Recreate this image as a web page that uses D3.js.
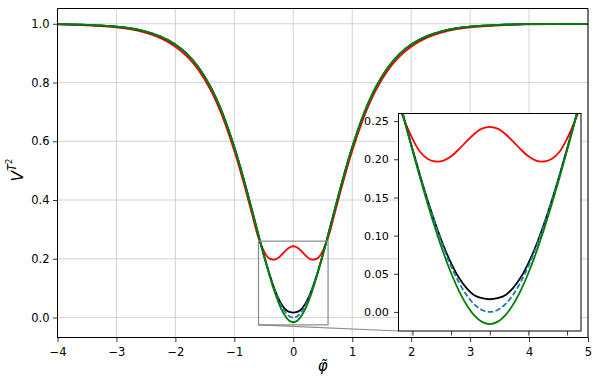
<!DOCTYPE html>
<html>
<head>
<meta charset="utf-8">
<script src="https://cdn.jsdelivr.net/npm/d3@7"></script>
<style>
  body { margin: 0; background: #fff; }
  svg { display: block; }
  text { font-family: "DejaVu Sans", sans-serif; fill: #000; }
</style>
</head>
<body>
<svg width="600" height="388"></svg>
<script>
// field values (phi tilde) shared by all curves
const phi = [-4, -3.5, -3, -2.75, -2.5, -2.25, -2, -1.8, -1.6, -1.4, -1.2, -1, -0.9, -0.8, -0.7, -0.6, -0.55, -0.5, -0.45, -0.4, -0.35, -0.3, -0.25, -0.2, -0.15, -0.1, -0.05,
  0, 0.05, 0.1, 0.15, 0.2, 0.25, 0.3, 0.35, 0.4, 0.45, 0.5, 0.55, 0.6, 0.7, 0.8, 0.9, 1, 1.2, 1.4, 1.6, 1.8, 2, 2.25, 2.5, 2.75, 3, 3.5, 4, 4.5, 5];

const redV = [0.9980, 0.9950, 0.9880, 0.9810, 0.9690, 0.9510, 0.9220, 0.8880, 0.8400, 0.7730, 0.6830, 0.5670, 0.5000, 0.4280, 0.3520, 0.2770, 0.2500, 0.2270, 0.2095, 0.2005, 0.1971, 0.1982, 0.2039, 0.2130, 0.2235, 0.2332, 0.2401,
  0.2426, 0.2401, 0.2332, 0.2235, 0.2130, 0.2039, 0.1982, 0.1971, 0.2005, 0.2095, 0.2270, 0.2500, 0.2770, 0.3520, 0.4280, 0.5000, 0.5670, 0.6830, 0.7730, 0.8400, 0.8880, 0.9220, 0.9510, 0.9690, 0.9810, 0.9880, 0.9950, 0.9980, 0.9993, 0.9998];

const blackV = [0.9987, 0.9964, 0.9901, 0.9839, 0.9734, 0.9565, 0.9293, 0.8964, 0.8495, 0.7839, 0.6950, 0.5800, 0.5131, 0.4409, 0.3653, 0.2885, 0.2506, 0.2138, 0.1785, 0.1453, 0.1149, 0.0873, 0.0640, 0.0450, 0.0312, 0.0219, 0.0180,
  0.0166, 0.0180, 0.0219, 0.0312, 0.0450, 0.0640, 0.0873, 0.1149, 0.1453, 0.1785, 0.2138, 0.2506, 0.2885, 0.3653, 0.4409, 0.5131, 0.5800, 0.6950, 0.7839, 0.8495, 0.8964, 0.9293, 0.9565, 0.9734, 0.9839, 0.9901, 0.9964, 0.9987, 0.9995, 0.9998];

const blueV = [0.9987, 0.9964, 0.9901, 0.9839, 0.9734, 0.9565, 0.9293, 0.8964, 0.8495, 0.7839, 0.6950, 0.5800, 0.5131, 0.4409, 0.3653, 0.2884, 0.2505, 0.2135, 0.1780, 0.1443, 0.1132, 0.0848, 0.0600, 0.0390, 0.0222, 0.0099, 0.0025,
  0.0000, 0.0025, 0.0099, 0.0222, 0.0390, 0.0600, 0.0848, 0.1132, 0.1443, 0.1780, 0.2135, 0.2505, 0.2884, 0.3653, 0.4409, 0.5131, 0.5800, 0.6950, 0.7839, 0.8495, 0.8964, 0.9293, 0.9565, 0.9734, 0.9839, 0.9901, 0.9964, 0.9987, 0.9995, 0.9998];

const greenV = [0.9987, 0.9964, 0.9901, 0.9839, 0.9734, 0.9565, 0.9293, 0.8964, 0.8495, 0.7839, 0.6950, 0.5798, 0.5127, 0.4403, 0.3645, 0.2874, 0.2490, 0.2115, 0.1750, 0.1403, 0.1077, 0.0778, 0.0510, 0.0280, 0.0094, -0.0046, -0.0131,
  -0.0160, -0.0131, -0.0046, 0.0094, 0.0280, 0.0510, 0.0778, 0.1077, 0.1403, 0.1750, 0.2115, 0.2490, 0.2874, 0.3645, 0.4403, 0.5127, 0.5798, 0.6950, 0.7839, 0.8495, 0.8964, 0.9293, 0.9565, 0.9734, 0.9839, 0.9901, 0.9964, 0.9987, 0.9995, 0.9998];

const xTicks = [-4, -3, -2, -1, 0, 1, 2, 3, 4, 5];
const yTicks = [0, 0.2, 0.4, 0.6, 0.8, 1.0];
const insetXTicks = [-0.5, -0.25, 0, 0.25, 0.5];
const insetYTicks = [0, 0.05, 0.10, 0.15, 0.20, 0.25];
const zoomX = [-0.59, 0.59];
const zoomY = [-0.025, 0.26];

const series = [
  { v: redV, color: '#ff0000', dash: null },
  { v: blackV, color: '#000000', dash: null },
  { v: blueV, color: '#1f77b4', dash: '5.5,2.4' },
  { v: greenV, color: '#008000', dash: null },
];

const svg = d3.select('svg');
const L = 57.5, R = 588, T = 8.5, B = 337.5;

const x = d3.scaleLinear().domain([-4, 5]).range([L, R]);
const y = d3.scaleLinear().domain([-0.068, 1.052]).range([B, T]);

const defs = svg.append('defs');
defs.append('clipPath').attr('id', 'clip-main')
  .append('rect').attr('x', L).attr('y', T).attr('width', R - L).attr('height', B - T);

// grid
const grid = svg.append('g');
grid.selectAll('.gx').data(xTicks).enter().append('line')
  .attr('x1', d => x(d)).attr('x2', d => x(d)).attr('y1', T).attr('y2', B)
  .attr('stroke', '#c8c8c8').attr('stroke-width', 0.8);
grid.selectAll('.gy').data(yTicks).enter().append('line')
  .attr('x1', L).attr('x2', R).attr('y1', d => y(d)).attr('y2', d => y(d))
  .attr('stroke', '#c8c8c8').attr('stroke-width', 0.8);

function drawCurves(g, sx, sy, clipId) {
  const line = d3.line()
    .x(d => sx(d[0]))
    .y(d => sy(d[1]))
    .curve(d3.curveCatmullRom);
  const cg = g.append('g').attr('clip-path', `url(#${clipId})`);
  series.forEach(s => {
    cg.append('path')
      .datum(phi.map((p, i) => [p, s.v[i]]))
      .attr('d', line)
      .attr('fill', 'none')
      .attr('stroke', s.color)
      .attr('stroke-width', 1.8)
      .attr('stroke-dasharray', s.dash);
  });
}

drawCurves(svg, x, y, 'clip-main');

// zoom indicator and connector
svg.append('rect')
  .attr('x', x(zoomX[0])).attr('y', y(zoomY[1]))
  .attr('width', x(zoomX[1]) - x(zoomX[0]))
  .attr('height', y(zoomY[0]) - y(zoomY[1]))
  .attr('fill', 'none').attr('stroke', '#8a8a8a').attr('stroke-width', 1.2);

// inset scales
const IL = 398.5, IR = 581, IT = 113.5, IB = 331;
const xi = d3.scaleLinear().domain(zoomX).range([IL, IR]);
const yi = d3.scaleLinear().domain(zoomY).range([IB, IT]);

svg.append('line')
  .attr('x1', x(zoomX[0])).attr('y1', y(zoomY[0]))
  .attr('x2', xi(zoomX[0])).attr('y2', yi(zoomY[0]))
  .attr('stroke', '#8a8a8a').attr('stroke-width', 1.2);

// main spines
svg.append('line').attr('x1', L).attr('x2', L).attr('y1', T).attr('y2', B).attr('stroke', '#000').attr('stroke-width', 1);
svg.append('line').attr('x1', R).attr('x2', R).attr('y1', T).attr('y2', B).attr('stroke', '#000').attr('stroke-width', 1);
svg.append('line').attr('x1', L).attr('x2', R).attr('y1', T).attr('y2', T).attr('stroke', '#000').attr('stroke-width', 1);
svg.append('line').attr('x1', L).attr('x2', R).attr('y1', B).attr('y2', B).attr('stroke', '#000').attr('stroke-width', 1);

const fmtMinus = d => (d < 0 ? '\u2212' + Math.abs(d) : '' + d);

const xAxis = svg.append('g')
  .attr('transform', `translate(0,${B})`)
  .call(d3.axisBottom(x).tickValues(xTicks).tickSize(4.5).tickPadding(5.5).tickFormat(fmtMinus));
const yAxis = svg.append('g')
  .attr('transform', `translate(${L},0)`)
  .call(d3.axisLeft(y).tickValues(yTicks).tickSize(4.5).tickPadding(3.5).tickFormat(d3.format('.1f')));
[xAxis, yAxis].forEach(a => {
  a.select('.domain').remove();
  a.selectAll('line').attr('stroke', '#000').attr('stroke-width', 0.8);
  a.selectAll('text').attr('font-size', 11.5).attr('font-family', '"DejaVu Sans", sans-serif').attr('fill', '#000');
});

// axis labels
svg.append('text')
  .attr('x', (L + R) / 2).attr('y', 370.5)
  .attr('text-anchor', 'middle')
  .attr('font-size', 15).attr('font-style', 'italic')
  .text('\u03c6\u0303');

const yl = svg.append('text')
  .attr('transform', 'translate(22.5,170) rotate(-90)')
  .attr('text-anchor', 'middle')
  .attr('font-size', 15.5).attr('font-style', 'italic');
yl.append('tspan').text('V');
yl.append('tspan').attr('font-size', 11.5).attr('dy', -6.5).text('T');
yl.append('tspan').attr('font-size', 8.5).attr('font-style', 'normal').attr('dy', -4).text('2');

// inset
const inset = svg.append('g');
defs.append('clipPath').attr('id', 'clip-inset')
  .append('rect').attr('x', IL).attr('y', IT).attr('width', IR - IL).attr('height', IB - IT);
inset.append('rect')
  .attr('x', IL).attr('y', IT).attr('width', IR - IL).attr('height', IB - IT)
  .attr('fill', '#fff');

drawCurves(inset, xi, yi, 'clip-inset');

inset.append('rect')
  .attr('x', IL).attr('y', IT).attr('width', IR - IL).attr('height', IB - IT)
  .attr('fill', 'none').attr('stroke', '#000').attr('stroke-width', 1);

const xiAxis = inset.append('g')
  .attr('transform', `translate(0,${IB})`)
  .call(d3.axisBottom(xi).tickValues(insetXTicks).tickSize(4.5).tickFormat(''));
const yiAxis = inset.append('g')
  .attr('transform', `translate(${IL},0)`)
  .call(d3.axisLeft(yi).tickValues(insetYTicks).tickSize(4.5).tickPadding(5).tickFormat(d3.format('.2f')));
[xiAxis, yiAxis].forEach(a => {
  a.select('.domain').remove();
  a.selectAll('line').attr('stroke', '#000').attr('stroke-width', 0.8);
  a.selectAll('text').attr('font-size', 11.2).attr('font-family', '"DejaVu Sans", sans-serif').attr('fill', '#000');
});
</script>
</body>
</html>
